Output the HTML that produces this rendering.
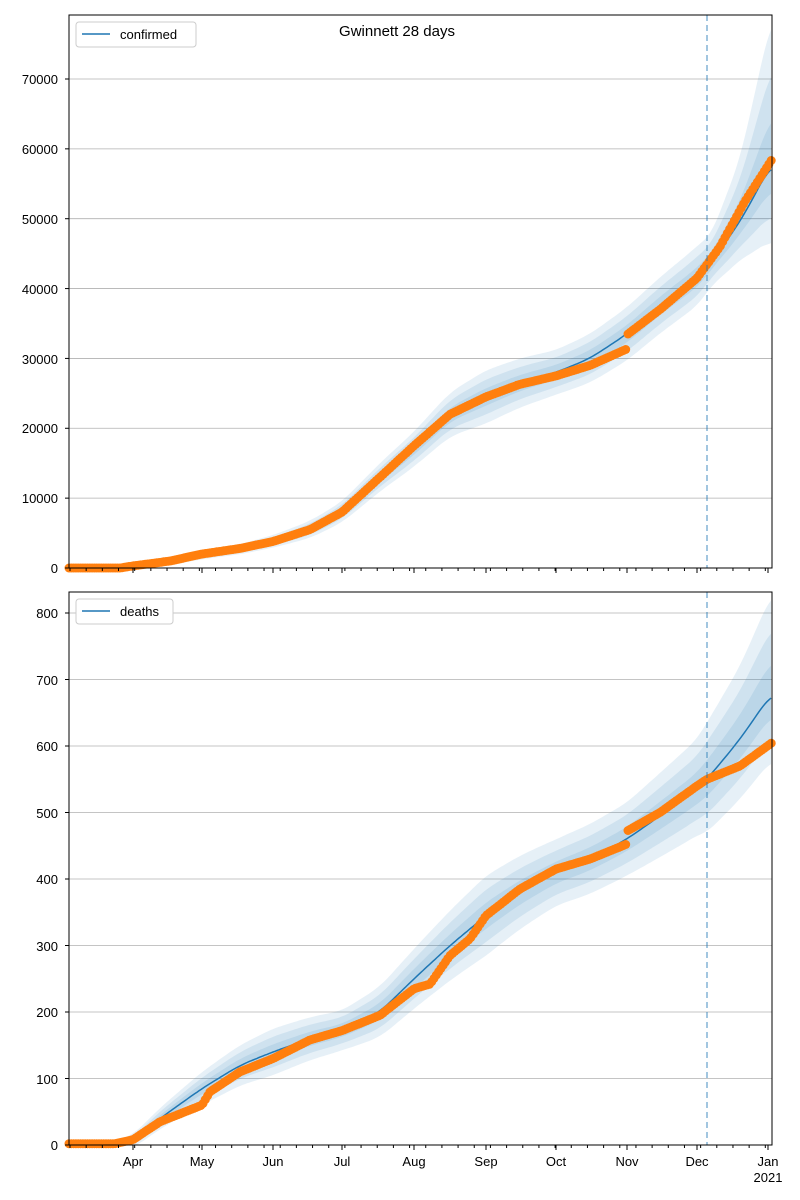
<!DOCTYPE html>
<html><head><meta charset="utf-8"><style>
body{margin:0;background:#fff}
svg{display:block;font-family:"Liberation Sans","DejaVu Sans",sans-serif}
</style></head><body>
<svg id="s" width="800" height="1200" xmlns="http://www.w3.org/2000/svg">
<rect width="800" height="1200" fill="#fff"/>
<g id="top"></g><g id="bot"></g>
<text x="397" y="36" font-size="15" text-anchor="middle">Gwinnett 28 days</text>
<g font-size="13" text-anchor="end" fill="#000">
<text x="58" y="573">0</text><text x="58" y="503">10000</text><text x="58" y="433">20000</text><text x="58" y="364">30000</text><text x="58" y="294">40000</text><text x="58" y="224">50000</text><text x="58" y="154">60000</text><text x="58" y="84">70000</text>
<text x="58" y="1150">0</text><text x="58" y="1084">100</text><text x="58" y="1017">200</text><text x="58" y="951">300</text><text x="58" y="884">400</text><text x="58" y="818">500</text><text x="58" y="751">600</text><text x="58" y="685">700</text><text x="58" y="618">800</text>
</g>
<g font-size="13" text-anchor="middle">
<text x="133" y="1166">Apr</text><text x="202" y="1166">May</text><text x="273" y="1166">Jun</text><text x="342" y="1166">Jul</text><text x="414" y="1166">Aug</text><text x="486" y="1166">Sep</text><text x="556" y="1166">Oct</text><text x="627" y="1166">Nov</text><text x="697" y="1166">Dec</text><text x="768" y="1166">Jan</text><text x="768" y="1182">2021</text>
</g>
<g>
<rect x="76" y="22" width="120" height="25" fill="#fff" stroke="#ccc" rx="3"/>
<line x1="82" y1="34" x2="110" y2="34" stroke="#1f77b4" stroke-width="1.5"/>
<text x="120" y="39" font-size="13">confirmed</text>
<rect x="76" y="599" width="97" height="25" fill="#fff" stroke="#ccc" rx="3"/>
<line x1="82" y1="611" x2="110" y2="611" stroke="#1f77b4" stroke-width="1.5"/>
<text x="120" y="616" font-size="13">deaths</text>
</g>
</svg>
<script>
const NS="http://www.w3.org/2000/svg";
function el(p,t,a){const e=document.createElementNS(NS,t);for(const k in a)e.setAttribute(k,a[k]);p.appendChild(e);return e}
function lin(pts,x){if(x<=pts[0][0])return pts[0][1];for(let i=1;i<pts.length;i++){if(x<=pts[i][0]){const a=pts[i-1],b=pts[i];const t=(x-a[0])/(b[0]-a[0]);return a[1]+t*(b[1]-a[1]);}}return pts[pts.length-1][1]}
function sm(pts,x,w){if(!w)return lin(pts,x);let s=0,n=0;for(let d=-w;d<=w;d+=1){let xx=Math.min(772,Math.max(69,x+d));s+=lin(pts,xx);n++}return s/n}
function panel(g,y0,y1,vmax,model,obs,bu,bl,ticks){
  const sy=v=>y1-(v/vmax)*(y1-y0);
  ticks.forEach(v=>el(g,'line',{x1:69,x2:772,y1:sy(v),y2:sy(v),stroke:'#b0b0b0','stroke-width':0.8}));
  [1,0.66,0.33].forEach(f=>{
    let up=[],dn=[];
    for(let x=69;x<=772;x+=2){const m=sm(model,x,12),hu=sm(bu,x,8)*f,hl=sm(bl,x,8)*f;up.push(x+','+sy(m+hu).toFixed(1));dn.unshift(x+','+sy(Math.max(0,m-hl)).toFixed(1));}
    el(g,'polygon',{points:up.concat(dn).join(' '),fill:'#1f77b4','fill-opacity':0.11});
  });
  let d='';for(let x=69;x<=772;x+=2){d+=(x==69?'M':'L')+x+','+sy(sm(model,x,12)).toFixed(1)}
  el(g,'path',{d:d,fill:'none',stroke:'#1f77b4','stroke-width':1.5});
  for(let x=69;x<=772;x+=2.31){el(g,'circle',{cx:x.toFixed(1),cy:sy(lin(obs,x)).toFixed(1),r:4.5,fill:'#ff7f0e'})}
  el(g,'line',{x1:707,x2:707,y1:y0,y2:y1,stroke:'#1f77b4','stroke-opacity':0.55,'stroke-width':1.5,'stroke-dasharray':'6,4'});
  el(g,'rect',{x:69,y:y0,width:703,height:y1-y0,fill:'none',stroke:'#000','stroke-width':1});
  ticks.forEach(v=>el(g,'line',{x1:65,x2:69,y1:sy(v),y2:sy(v),stroke:'#000'}));
  [133,202,273,342,414,486,556,627,697,768].forEach(x=>el(g,'line',{x1:x,x2:x,y1:y1,y2:y1+5,stroke:'#000'}));
  for(let x=70;x<=772;x+=16.17){el(g,'line',{x1:x,x2:x,y1:y1,y2:y1+3,stroke:'#000'})}
}
panel(document.getElementById('top'),15,568,79160,
 [[69,0],[110,0],[133,100],[170,800],[202,1800],[240,2700],[273,3800],[310,5500],[342,8000],[380,13000],[414,17000],[450,22000],[486,24500],[520,26500],[556,28000],[590,30000],[627,33500],[660,37500],[697,41500],[707,43000],[740,49500],[772,58000]],
 [[69,0],[120,0],[133,300],[170,1000],[202,2000],[240,2800],[273,3800],[310,5500],[342,8000],[380,13000],[414,17500],[450,22000],[486,24500],[520,26300],[556,27500],[590,29000],[626,31300],[628,33500],[660,37000],[697,41500],[720,46000],[745,52500],[772,58500]],
 [[69,0],[133,200],[273,900],[342,1500],[414,2500],[486,3800],[556,3200],[627,3800],[697,4500],[712,4000],[740,9000],[772,21000]],
 [[69,0],[133,200],[273,900],[342,1500],[414,2500],[486,3800],[556,3200],[627,3800],[697,4000],[712,3500],[740,5500],[772,11000]],
 [0,10000,20000,30000,40000,50000,60000,70000]);
panel(document.getElementById('bot'),592,1145,831.6,
 [[69,0],[120,0],[133,5],[160,40],[202,85],[240,120],[273,140],[310,160],[342,172],[380,200],[414,250],[450,300],[486,345],[520,380],[556,410],[590,430],[627,460],[660,495],[697,535],[707,550],[740,610],[772,680]],
 [[69,2],[115,2],[133,8],[160,35],[202,60],[210,80],[240,110],[273,130],[310,158],[342,172],[380,195],[414,235],[430,242],[450,285],[470,310],[486,345],[520,385],[556,415],[590,430],[626,452],[628,473],[660,500],[697,540],[707,550],[740,570],[772,605]],
 [[69,0],[133,10],[202,25],[273,35],[342,30],[414,45],[486,60],[556,50],[627,55],[697,75],[707,85],[740,110],[772,150]],
 [[69,0],[133,10],[202,25],[273,35],[342,30],[414,45],[486,60],[556,50],[627,55],[697,70],[707,80],[740,90],[772,100]],
 [0,100,200,300,400,500,600,700,800]);
</script>
</body></html>
